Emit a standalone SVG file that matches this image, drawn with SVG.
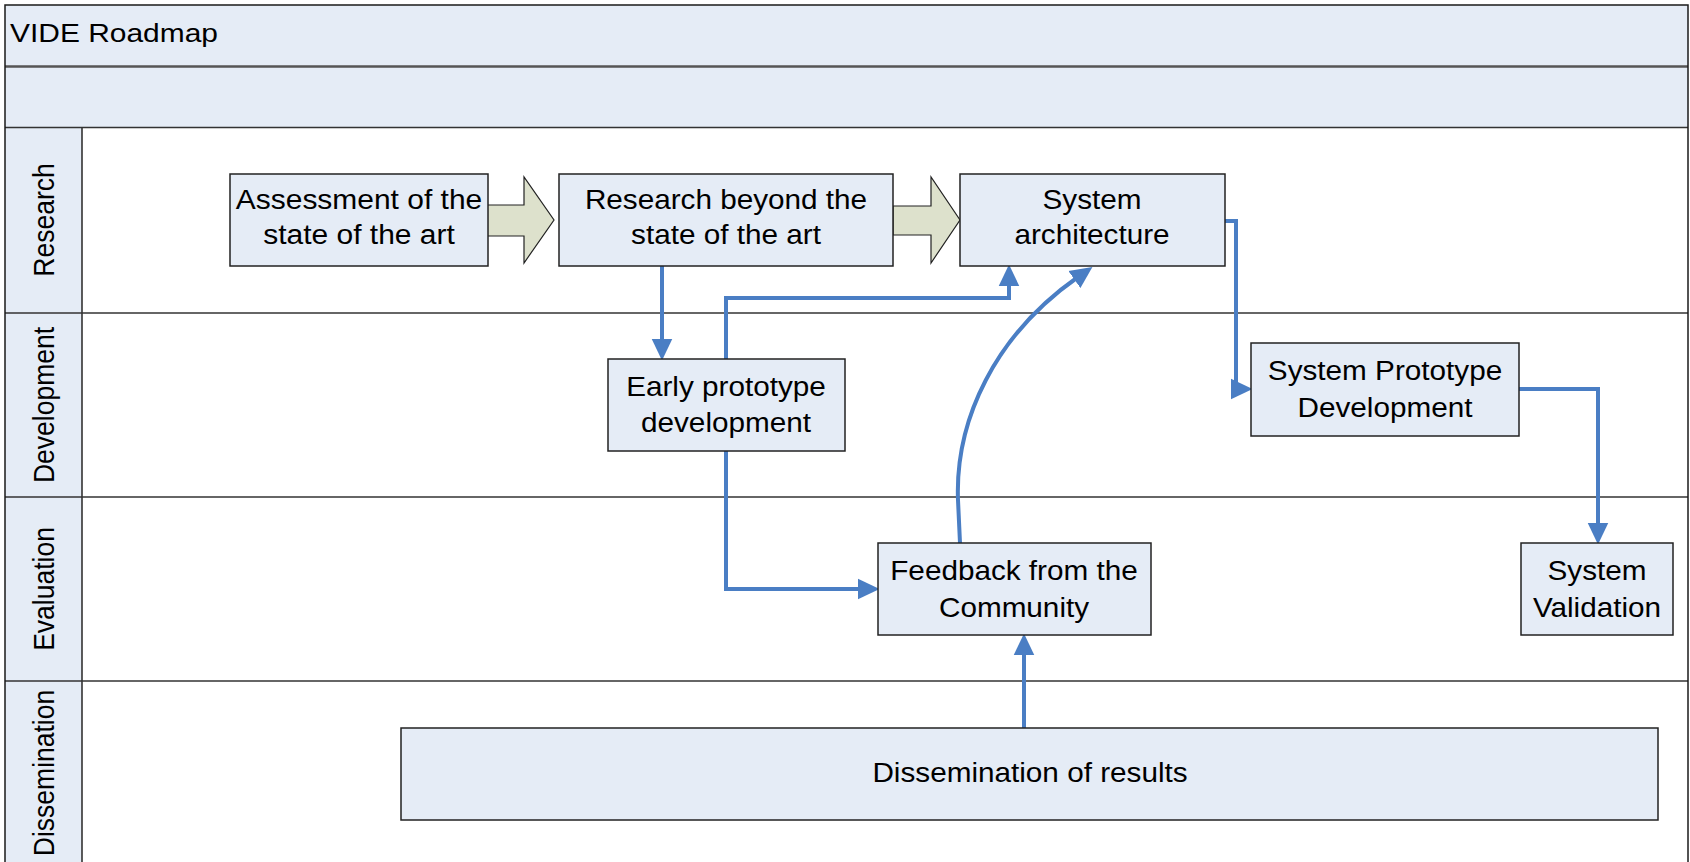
<svg xmlns="http://www.w3.org/2000/svg" width="1690" height="862" viewBox="0 0 1690 862">
<style>
.bg{fill:#ffffff}
.band{fill:#E5ECF6}
.frame{fill:none;stroke:#1a1a1a;stroke-width:1.5}
.lane{stroke:#333333;stroke-width:1.6}
.node{fill:#E5ECF6;stroke:#222222;stroke-width:1.5}
.blk{fill:#DDE1CC;stroke:#222222;stroke-width:1.2}
.t{font-family:"Liberation Sans",Arial,sans-serif;font-size:27.5px;fill:#000;text-anchor:middle}
.lt{font-family:"Liberation Sans",Arial,sans-serif;font-size:26.5px;fill:#000;text-anchor:middle}
.tt{font-family:"Liberation Sans",Arial,sans-serif;font-size:26.5px;fill:#000}
.c{fill:none;stroke:#4A7EC4;stroke-width:4}
</style>
<defs>
<marker id="ah" markerUnits="userSpaceOnUse" markerWidth="22" markerHeight="22" refX="4" refY="9.5" orient="auto" viewBox="0 0 20 19">
<path d="M0,0 L20,9.5 L0,19 z" fill="#4A7EC4"/>
</marker>
</defs>
<rect class="bg" x="0" y="0" width="1690" height="862"/>
<g id="pool">
<rect class="band" x="5" y="5" width="1683" height="122"/>
<rect class="band" x="5" y="127" width="77" height="740"/>
<line x1="5" y1="66.5" x2="1688" y2="66.5" stroke="#555" stroke-width="2.5"/>
<line class="lane" x1="5" y1="127.5" x2="1688" y2="127.5"/>
<line class="lane" x1="5" y1="313" x2="1688" y2="313"/>
<line class="lane" x1="5" y1="497" x2="1688" y2="497"/>
<line class="lane" x1="5" y1="681" x2="1688" y2="681"/>
<line class="lane" x1="82" y1="127" x2="82" y2="862"/>
<rect class="frame" x="5" y="5" width="1683" height="870"/>
<text class="tt" transform="matrix(1.13 0 0 1 10 42)" x="0" y="0">VIDE Roadmap</text>
</g>
<g id="lane-research"><text class="lt" transform="translate(54 220) scale(1.08 1) rotate(-90)">Research</text></g>
<g id="lane-development"><text class="lt" transform="translate(54 405) scale(1.08 1) rotate(-90)">Development</text></g>
<g id="lane-evaluation"><text class="lt" transform="translate(54 589) scale(1.08 1) rotate(-90)">Evaluation</text></g>
<g id="lane-dissemination"><text class="lt" transform="translate(54 773) scale(1.08 1) rotate(-90)">Dissemination</text></g>

<g id="connectors">
<polygon class="blk" points="487,205 524,205 524,177 554,220 524,263 524,236 487,236"/>
<polygon class="blk" points="893,206 931,206 931,177 960,220 931,263 931,235 893,235"/>
<path class="c" d="M662 266 V343" marker-end="url(#ah)"/>
<path class="c" d="M726 359 V298 H1009 V282" marker-end="url(#ah)"/>
<path class="c" d="M726 451 V589 H862" marker-end="url(#ah)"/>
<path class="c" d="M960 543 L958 500 C955 420, 995 335, 1078 277" marker-end="url(#ah)"/>
<path class="c" d="M1024 728 V651" marker-end="url(#ah)"/>
<path class="c" d="M1225 221 H1236 V389"/>
<path class="c" d="M1232 389 H1235" marker-end="url(#ah)"/>
<path class="c" d="M1519 389 H1598 V527" marker-end="url(#ah)"/>
</g>

<g id="n-assessment">
<rect class="node" x="230" y="174" width="258" height="92"/>
<text class="t" transform="matrix(1.09 0 0 1 359 0)" x="0" y="209.5">Assessment of the</text>
<text class="t" transform="matrix(1.09 0 0 1 359 0)" x="0" y="244.5">state of the art</text>
</g>
<g id="n-research-beyond">
<rect class="node" x="559" y="174" width="334" height="92"/>
<text class="t" transform="matrix(1.08 0 0 1 726 0)" x="0" y="209.5">Research beyond the</text>
<text class="t" transform="matrix(1.08 0 0 1 726 0)" x="0" y="244.5">state of the art</text>
</g>
<g id="n-system-architecture">
<rect class="node" x="960" y="174" width="265" height="92"/>
<text class="t" transform="matrix(1.08 0 0 1 1092 0)" x="0" y="209.5">System</text>
<text class="t" transform="matrix(1.08 0 0 1 1092 0)" x="0" y="244.5">architecture</text>
</g>
<g id="n-early-prototype">
<rect class="node" x="608" y="359" width="237" height="92"/>
<text class="t" transform="matrix(1.08 0 0 1 726 0)" x="0" y="396">Early prototype</text>
<text class="t" transform="matrix(1.08 0 0 1 726 0)" x="0" y="432">development</text>
</g>
<g id="n-system-prototype">
<rect class="node" x="1251" y="343" width="268" height="93"/>
<text class="t" transform="matrix(1.08 0 0 1 1385 0)" x="0" y="380">System Prototype</text>
<text class="t" transform="matrix(1.08 0 0 1 1385 0)" x="0" y="417">Development</text>
</g>
<g id="n-feedback">
<rect class="node" x="878" y="543" width="273" height="92"/>
<text class="t" transform="matrix(1.08 0 0 1 1014 0)" x="0" y="580">Feedback from the</text>
<text class="t" transform="matrix(1.08 0 0 1 1014 0)" x="0" y="617">Community</text>
</g>
<g id="n-system-validation">
<rect class="node" x="1521" y="543" width="152" height="92"/>
<text class="t" transform="matrix(1.08 0 0 1 1597 0)" x="0" y="580">System</text>
<text class="t" transform="matrix(1.08 0 0 1 1597 0)" x="0" y="617">Validation</text>
</g>
<g id="n-dissemination">
<rect class="node" x="401" y="728" width="1257" height="92"/>
<text class="t" transform="matrix(1.08 0 0 1 1030 0)" x="0" y="782">Dissemination of results</text>
</g>
</svg>
